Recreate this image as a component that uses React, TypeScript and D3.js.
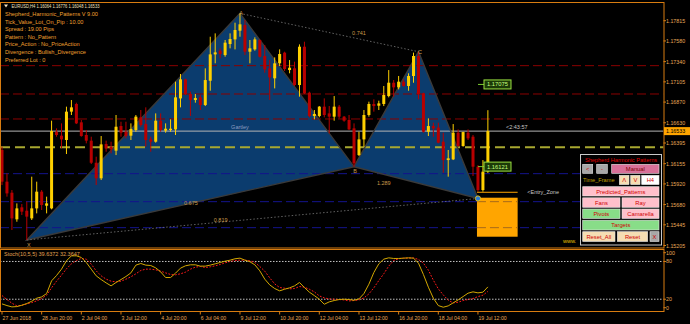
import React from "react";
import * as d3 from "d3";

// ---------- DATA ----------
const barOpen = [1.16314,1.15946,1.15818,1.15509,1.15648,1.15609,1.15520,1.15636,1.15830,1.15667,
1.15636,1.16526,1.16480,1.16430,1.16759,1.16848,1.16635,1.16488,1.16422,1.16166,
1.15985,1.16383,1.16352,1.16306,1.16592,1.16526,1.16480,1.16546,1.16693,1.16615,
1.16437,1.16410,1.16654,1.16538,1.16546,1.16553,1.16913,1.17134,1.16964,1.16894,
1.16925,1.16836,1.17118,1.17424,1.17467,1.17416,1.17544,1.17598,1.17699,1.17765,
1.17455,1.17482,1.17591,1.17405,1.17262,1.17146,1.17320,1.17444,1.17242,1.17262,
1.17068,1.17513,1.16979,1.16708,1.16708,1.16817,1.16739,1.16701,1.16817,1.16701,
1.16662,1.16565,1.16255,1.16437,1.16720,1.16848,1.16828,1.16848,1.16940,1.17095,
1.17041,1.17107,1.17057,1.17173,1.17405,1.16971,1.16526,1.16592,1.16573,1.16410,
1.16197,1.16205,1.16515,1.16360,1.16515,1.16468,1.16120,1.15849,1.16064];
const barHigh = [1.16352,1.16043,1.15849,1.15694,1.15687,1.15714,1.16004,1.15946,1.15849,1.15772,
1.16654,1.16565,1.16623,1.16817,1.16894,1.16863,1.16662,1.16546,1.16468,1.16236,
1.16476,1.16422,1.16410,1.16720,1.16642,1.16642,1.16623,1.16720,1.16778,1.16809,
1.16468,1.16739,1.16739,1.16623,1.16670,1.17107,1.17196,1.17142,1.16991,1.16964,
1.16952,1.17262,1.17629,1.17668,1.17494,1.17591,1.17668,1.17792,1.17900,1.17823,
1.17591,1.17622,1.17598,1.17533,1.17358,1.17389,1.17482,1.17455,1.17358,1.17339,
1.17540,1.17571,1.16991,1.16778,1.16824,1.16913,1.16824,1.16940,1.16836,1.16708,
1.16720,1.16623,1.16526,1.16778,1.16875,1.16902,1.16886,1.17057,1.17242,1.17126,
1.17173,1.17134,1.17204,1.17444,1.17455,1.16979,1.16681,1.16631,1.16631,1.16515,
1.16314,1.16615,1.16553,1.16526,1.16553,1.16488,1.16139,1.16197,1.16776];
const barLow = [1.15907,1.15772,1.15385,1.15481,1.15559,1.15269,1.15501,1.15578,1.15617,1.15578,
1.15625,1.16468,1.16333,1.16267,1.16720,1.16615,1.16468,1.16391,1.16151,1.15907,
1.15965,1.16294,1.16275,1.16255,1.16468,1.16449,1.16430,1.16526,1.16584,1.16352,
1.16294,1.16399,1.16526,1.16515,1.16526,1.16488,1.16809,1.16952,1.16708,1.16863,
1.16778,1.16824,1.17002,1.17320,1.17378,1.17397,1.17494,1.17482,1.17629,1.17416,
1.17320,1.17467,1.17389,1.17211,1.16894,1.17029,1.17289,1.17231,1.17204,1.17057,
1.16933,1.16964,1.16693,1.16670,1.16693,1.16693,1.16507,1.16654,1.16681,1.16642,
1.16546,1.16120,1.16244,1.16352,1.16701,1.16759,1.16778,1.16824,1.16925,1.16933,
1.17018,1.17049,1.17002,1.17095,1.16902,1.16515,1.16476,1.16468,1.16391,1.16050,
1.16004,1.16197,1.16352,1.16352,1.16430,1.16012,1.15830,1.15830,1.16048];
const barClose = [1.15946,1.15810,1.15520,1.15636,1.15598,1.15540,1.15636,1.15830,1.15675,1.15694,
1.16534,1.16488,1.16437,1.16759,1.16809,1.16623,1.16476,1.16422,1.16166,1.15985,
1.16379,1.16333,1.16321,1.16584,1.16515,1.16476,1.16557,1.16701,1.16604,1.16430,
1.16410,1.16654,1.16546,1.16561,1.16561,1.16925,1.17134,1.16964,1.16894,1.16917,
1.16836,1.17126,1.17424,1.17447,1.17428,1.17560,1.17602,1.17707,1.17773,1.17455,
1.17494,1.17598,1.17397,1.17250,1.17157,1.17320,1.17428,1.17254,1.17269,1.17068,
1.17513,1.16971,1.16708,1.16732,1.16817,1.16720,1.16701,1.16817,1.16701,1.16654,
1.16553,1.16159,1.16437,1.16720,1.16848,1.16824,1.16855,1.16952,1.17095,1.17041,
1.17107,1.17057,1.17173,1.17405,1.16964,1.16526,1.16592,1.16565,1.16399,1.16197,
1.16217,1.16515,1.16360,1.16522,1.16449,1.16120,1.15849,1.16062,1.16533];

const stochMain = [12.6,9.9,7.8,8.3,10.4,13.1,16.8,21.6,23.7,29.0,
49.2,57.7,67.8,81.1,89.0,89.0,86.4,78.4,67.8,57.2,
51.3,46.0,41.2,46.6,51.3,56.1,61.9,74.2,76.8,74.2,
73.6,69.9,63.5,54.5,54.5,61.4,69.4,73.1,74.7,74.7,
72.6,72.6,74.2,76.3,78.4,80.5,82.1,84.3,85.3,82.1,
79.5,74.7,65.1,51.9,42.8,37.0,33.3,35.9,38.1,41.2,
46.6,38.6,31.2,25.8,20.0,12.0,15.8,17.9,19.5,20.0,
19.5,18.4,20.5,29.0,43.9,62.5,76.3,83.7,85.8,84.8,
84.8,85.3,85.8,85.3,77.3,59.3,39.1,21.6,9.9,7.3,
9.4,14.2,18.9,24.2,29.6,31.7,30.1,31.2,39.6];
const stochSignal = [25.8,19.5,13.6,9.4,10.4,12.6,14.7,17.3,21.1,26.4,
38.1,48.7,58.2,68.3,76.3,81.6,84.8,83.7,75.8,65.1,
57.2,51.9,48.7,47.6,48.7,51.9,55.6,60.4,65.7,67.8,
67.8,66.7,64.6,61.9,59.3,58.8,60.4,63.0,67.8,71.0,
72.0,70.4,71.5,73.1,75.2,77.9,80.0,81.6,82.1,82.1,
81.1,78.4,72.0,64.6,54.0,44.4,38.6,37.5,36.5,37.0,
40.2,39.1,35.9,31.7,25.3,22.1,20.5,20.0,19.5,18.9,
17.3,17.9,18.9,22.1,28.5,38.1,49.7,60.4,72.6,81.6,
84.3,85.3,85.3,85.8,83.2,77.3,66.2,50.3,36.5,26.9,
18.4,14.2,15.2,17.9,19.5,21.1,24.2,26.4,32.4];

const priceTicks = [1.17815,1.17580,1.17340,1.17105,1.16870,1.16630,1.16395,1.16155,1.15920,1.15680,1.15445,1.15205];
const timeLabels = ["27 Jun 2018","28 Jun 20:00","2 Jul 04:00","3 Jul 12:00","4 Jul 20:00","6 Jul 04:00","9 Jul 12:00","10 Jul 20:00","12 Jul 04:00","13 Jul 12:00","16 Jul 20:00","18 Jul 04:00","19 Jul 12:00"];
const timeLabelBars = [0,8,16,24,32,40,48,56,64,72,80,88,96];
const stochLevels = [80, 20];
const stochAxisLabels = [100, 80, 20, 0];

const redLevels = [1.17293, 1.16964, 1.16674];
const oliveLevels = [1.16345];
const blueLevels = [1.16039, 1.15714, 1.15412];
const bidPrice = 1.16533;

const patternNames = ["X", "A", "B", "C", "D"];
const patternBars = [5, 48, 71, 84, 96];
const patternPrices = [1.15269, 1.17900, 1.16120, 1.17455, 1.15751];

const ratioTexts = ["0.741", "0.819", "0.675", "1.289"];
const ratioBars = [72.0, 44.1, 38.1, 77.0];
const ratioPrices = [1.17669, 1.15501, 1.15695, 1.15927];

const entryZoneTop = 1.15760;
const entryZoneBottom = 1.15307;
const entryZoneLine = 1.15823;
const entryZoneEndBar = 104;

const targetLabels = ["1.17075", "1.16121"];
const targetPrices = [1.17075, 1.16121];

const headerText = "EURUSD,H4  1.16064 1.16776 1.16048 1.16533";
const infoLines = [
  "Shepherd_Harmonic_Patterns V 9.00",
  "Tick_Value_Lot_On_Pip : 10.00",
  "Spread : 19.00  Pips",
  "Pattern : No_Pattern",
  "Price_Action : No_PriceAction",
  "Divergence : Bullish_Divergence",
  "Preferred Lot : 0",
];
const stochTitle = "Stoch(10,5,5) 39.6372 32.3647";

const FONT = "'Liberation Sans', Arial, sans-serif";

// control panel buttons (UI overlay)
const panelButtons = [
  { t: "<", x: 582.7, y: 164.3, w: 10, h: 9, fill: "#a8a8a8", c: "#d00000" },
  { t: "-", x: 596.7, y: 164.3, w: 10.6, h: 9, fill: "#a8a8a8", c: "#d00000" },
  { t: "Manual", x: 611.7, y: 164.3, w: 47.3, h: 9, fill: "#d87098", c: "#7a0000" },
  { t: "\u039B", x: 619.3, y: 175.3, w: 9.7, h: 9.3, fill: "#f5deb3", c: "#d00000" },
  { t: "V", x: 630.7, y: 175.3, w: 9.3, h: 9.3, fill: "#f5deb3", c: "#d00000" },
  { t: "H4", x: 641.7, y: 175.3, w: 17.3, h: 9.3, fill: "#ffffff", c: "#d00000" },
  { t: "Predicted_Patterns", x: 582.7, y: 186.7, w: 76.3, h: 9.3, fill: "#ffc0cb", c: "#d00000" },
  { t: "Fans", x: 582.7, y: 197.8, w: 37.3, h: 9.5, fill: "#ffc0cb", c: "#d00000" },
  { t: "Ray", x: 622, y: 197.8, w: 37, h: 9.5, fill: "#ffc0cb", c: "#d00000" },
  { t: "Pivots", x: 582.7, y: 209, w: 37.3, h: 9.5, fill: "#88dd88", c: "#d00000" },
  { t: "Camarella", x: 622, y: 209, w: 37, h: 9.5, fill: "#ffc0cb", c: "#d00000" },
  { t: "Targets", x: 582.7, y: 220.2, w: 76.3, h: 9.8, fill: "#88dd88", c: "#d00000" },
  { t: "Reset_All", x: 582.7, y: 231.7, w: 32.3, h: 9.8, fill: "#f5deb3", c: "#d00000" },
  { t: "Reset", x: 617.3, y: 231.7, w: 30.4, h: 9.8, fill: "#f5deb3", c: "#d00000" },
  { t: "X", x: 650, y: 231.7, w: 9, h: 9.8, fill: "#a8a8a8", c: "#d00000" },
];

export default function App() {
  const W = 690, H = 324;
  const x = d3.scaleLinear().domain([0, 98]).range([2, 2 + 4.958 * 98]);
  const y = d3.scaleLinear().domain([1.15205, 1.17815]).range([245.5, 20.7]);
  const ys = d3.scaleLinear().domain([0, 100]).range([311.8, 248.9]);
  const R = 663.5; // right edge of plotting area

  const pts = patternBars.map((b, i) => [x(b), y(patternPrices[i])] as [number, number]);
  const poly = d3.line();
  const tri1 = poly([pts[0], pts[1], pts[2]]) + "Z";
  const tri2 = poly([pts[2], pts[3], pts[4]]) + "Z";

  const stochLine = d3.line<number>().x((_, i) => x(i)).y((d) => ys(d)).curve(d3.curveLinear);

  const up = "#ffd000";
  const down = "#b80000";
  const axisCol = "#e8a858";
  const frame = "#d87c10";
  const clampS = (v: number) => Math.min(Math.max(ys(v), 252.7), 307.7);

  return (
    <svg width={W} height={H} viewBox={`0 0 ${W} ${H}`}
      style={{ position: "fixed", left: 0, top: 0, display: "block", background: "#000" }}
      fontFamily={FONT}>
      <rect x={0} y={0} width={W} height={H} fill="#000" />
      <defs>
        <clipPath id="mainClip"><rect x={0} y={3} width={R} height={245} /></clipPath>
        <clipPath id="stochClip"><rect x={0} y={250} width={R} height={61.5} /></clipPath>
      </defs>

      <g clipPath="url(#mainClip)">
        {/* pattern fill */}
        <path d={tri1} fill="#0b3c6e" />
        <path d={tri2} fill="#0b3c6e" />

        {/* horizontal levels */}
        {redLevels.map((p, i) => (
          <line key={"r" + i} x1={0} x2={R} y1={y(p)} y2={y(p)} stroke="#8a0000" strokeWidth={1} strokeDasharray="9,4" />
        ))}
        {blueLevels.map((p, i) => (
          <line key={"b" + i} x1={0} x2={R} y1={y(p)} y2={y(p)} stroke="#14148c" strokeWidth={1} strokeDasharray="9,4" />
        ))}
        {oliveLevels.map((p, i) => (
          <line key={"o" + i} x1={0} x2={R} y1={y(p)} y2={y(p)} stroke="#a8a830" strokeWidth={2} strokeDasharray="10,5" />
        ))}
        <line x1={0} x2={R} y1={y(bidPrice)} y2={y(bidPrice)} stroke="#b4b4b4" strokeWidth={1} />

        {/* pattern edges */}
        <path d={tri1} fill="none" stroke="#3a3a3a" strokeWidth={1.4} />
        <path d={tri2} fill="none" stroke="#3a3a3a" strokeWidth={1.4} />
        {/* dotted ratio lines */}
        <line x1={pts[0][0]} y1={pts[0][1]} x2={pts[4][0]} y2={pts[4][1]} stroke="#7a7a7a" strokeWidth={0.8} strokeDasharray="1.5,2" />
        <line x1={pts[1][0]} y1={pts[1][1]} x2={pts[3][0]} y2={pts[3][1]} stroke="#7a7a7a" strokeWidth={0.8} strokeDasharray="1.5,2" />

        {/* candles */}
        {barOpen.map((o, i) => {
          const c = barClose[i];
          const col = c >= o ? up : down;
          const cx = x(i);
          const top = y(Math.max(o, c));
          const bot = y(Math.min(o, c));
          return (
            <g key={"c" + i}>
              <line x1={cx} x2={cx} y1={y(barHigh[i])} y2={y(barLow[i])} stroke={col} strokeWidth={1} />
              <rect x={cx - 1.5} y={top} width={3} height={Math.max(1, bot - top)} fill={col} />
            </g>
          );
        })}

        {/* ratio labels */}
        {ratioTexts.map((t, i) => (
          <text key={"rt" + i} x={x(ratioBars[i])} y={y(ratioPrices[i])} fontSize={5.5} fill="#c89a4a" textAnchor="middle" dominantBaseline="central">{t}</text>
        ))}
        <text x={x(48)} y={y(1.16584)} fontSize={5.5} fill="#8c9cc0" textAnchor="middle" dominantBaseline="central">Gartley</text>
        {/* point labels */}
        <text x={pts[1][0] + 1} y={pts[1][1]} fontSize={5.5} fill="#c89a4a" textAnchor="middle" dominantBaseline="central">A</text>
        <text x={pts[0][0] + 2} y={pts[0][1] + 5} fontSize={5.5} fill="#c89a4a" textAnchor="middle" dominantBaseline="central">X</text>
        <text x={pts[2][0] + 1} y={pts[2][1] + 4.5} fontSize={5.5} fill="#c89a4a" textAnchor="middle" dominantBaseline="central">B</text>
        <text x={pts[3][0] + 1.5} y={pts[3][1]} fontSize={5.5} fill="#c89a4a" textAnchor="middle" dominantBaseline="central">C</text>

        {/* entry zone */}
        <line x1={x(96) - 1} x2={x(entryZoneEndBar)} y1={y(entryZoneLine)} y2={y(entryZoneLine)} stroke="#ffa500" strokeWidth={1} />
        <rect x={x(96) - 1} y={y(entryZoneTop)} width={x(entryZoneEndBar) - x(96) + 1} height={y(entryZoneBottom) - y(entryZoneTop)} fill="#ffa500" />
        {blueLevels.filter((p) => p < entryZoneTop && p > entryZoneBottom).map((p, i) => (
          <line key={"ez" + i} x1={x(96) - 1} x2={x(entryZoneEndBar)} y1={y(p)} y2={y(p)} stroke="#a86a1a" strokeWidth={1} strokeDasharray="9,4" />
        ))}
        <text x={527.3} y={y(entryZoneLine)} fontSize={5.5} fill="#c8c8c8" dominantBaseline="central">{"<Entry_Zone"}</text>
        {/* D marker */}
        <circle cx={pts[4][0]} cy={pts[4][1]} r={2.6} fill="#2d7ad8" stroke="#ffd000" strokeWidth={0.8} />

        {/* target labels */}
        {targetLabels.map((t, i) => (
          <g key={"tg" + i}>
            <line x1={478} x2={484} y1={y(targetPrices[i])} y2={y(targetPrices[i])} stroke="#7ccc30" strokeWidth={1} />
            <rect x={484} y={y(targetPrices[i]) - 4.5} width={27} height={9} fill="#1c3a08" stroke="#9ae040" strokeWidth={1} />
            <text x={497.5} y={y(targetPrices[i])} fontSize={5.8} fill="#c8ff80" textAnchor="middle" dominantBaseline="central">{t}</text>
          </g>
        ))}
        <text x={506} y={y(bidPrice) - 4.5} fontSize={5.5} fill="#c8c8c8" dominantBaseline="central">{"<2:43:57"}</text>

        {/* www text + control panel */}
        <text x={563} y={240.5} fontSize={5.5} fill="#e8c000" dominantBaseline="central">www.</text>
        <rect x={580.5} y={154.5} width={81} height={90.5} fill="#000" stroke="#c8c8c8" strokeWidth={1} />
        <text x={621} y={159.5} fontSize={5.6} fill="#e00000" textAnchor="middle" dominantBaseline="central">Shepherd Harmonic Patterns</text>
        <text x={583} y={180} fontSize={5.6} fill="#c0a000" dominantBaseline="central">Time_Frame</text>
        {panelButtons.map((b, i) => (
          <g key={"pb" + i}>
            <rect x={b.x} y={b.y} width={b.w} height={b.h} fill={b.fill} stroke="#e8e8e8" strokeWidth={0.6} />
            <text x={b.x + b.w / 2} y={b.y + b.h / 2 + 0.3} fontSize={5.8} fill={b.c} textAnchor="middle" dominantBaseline="central">{b.t}</text>
          </g>
        ))}

        {/* info text */}
        <path d="M4,4.5 L8,4.5 L6,7.5 Z" fill="#f0e0c0" />
        <text x={11.5} y={6} fontSize={5.5} fill="#f0e0c0" dominantBaseline="central" textLength={88} lengthAdjust="spacingAndGlyphs">{headerText}</text>
        {infoLines.map((t, i) => (
          <text key={"il" + i} x={5} y={14.2 + i * 7.55} fontSize={5.6} fill="#f0a030" dominantBaseline="central">{t}</text>
        ))}
      </g>

      {/* stochastic */}
      <g clipPath="url(#stochClip)">
        {stochLevels.map((v) => (
          <line key={"sl" + v} x1={0} x2={R} y1={ys(v)} y2={ys(v)} stroke="#c0c0c0" strokeWidth={1} strokeDasharray="1.5,1.5" />
        ))}
        <path d={stochLine(stochSignal) || ""} fill="none" stroke="#ff1a1a" strokeWidth={1} strokeDasharray="1.8,1.5" />
        <path d={stochLine(stochMain) || ""} fill="none" stroke="#d4a800" strokeWidth={1} />
        <text x={4} y={253.5} fontSize={5.5} fill="#e0a050" dominantBaseline="central">{stochTitle}</text>
      </g>

      {/* frames */}
      <rect x={0.5} y={2.5} width={R} height={245.5} fill="none" stroke={frame} strokeWidth={1} />
      <rect x={0.5} y={249.5} width={R} height={62} fill="none" stroke={frame} strokeWidth={1} />

      {/* price axis */}
      {priceTicks.map((p) => (
        <g key={"pt" + p}>
          <line x1={R} x2={R + 2.5} y1={y(p)} y2={y(p)} stroke={frame} />
          <text x={666} y={y(p)} fontSize={5.3} fill={axisCol} dominantBaseline="central">{p.toFixed(5)}</text>
        </g>
      ))}
      <rect x={664} y={y(bidPrice) - 4} width={26} height={8} fill="#ffa500" />
      <text x={666} y={y(bidPrice)} fontSize={5.3} fill="#000" dominantBaseline="central">{bidPrice.toFixed(5)}</text>

      {/* stoch axis */}
      {stochAxisLabels.map((v) => (
        <g key={"sa" + v}>
          <line x1={R} x2={R + 2.5} y1={clampS(v)} y2={clampS(v)} stroke={frame} />
          <text x={666} y={clampS(v)} fontSize={5.3} fill={axisCol} dominantBaseline="central">{v}</text>
        </g>
      ))}

      {/* time axis */}
      {timeLabels.map((t, i) => (
        <g key={"tl" + i}>
          <line x1={x(timeLabelBars[i])} x2={x(timeLabelBars[i])} y1={311.5} y2={314.5} stroke={frame} />
          <text x={x(timeLabelBars[i]) + 0.5} y={318} fontSize={5.2} fill={axisCol} dominantBaseline="central">{t}</text>
        </g>
      ))}
    </svg>
  );
}
